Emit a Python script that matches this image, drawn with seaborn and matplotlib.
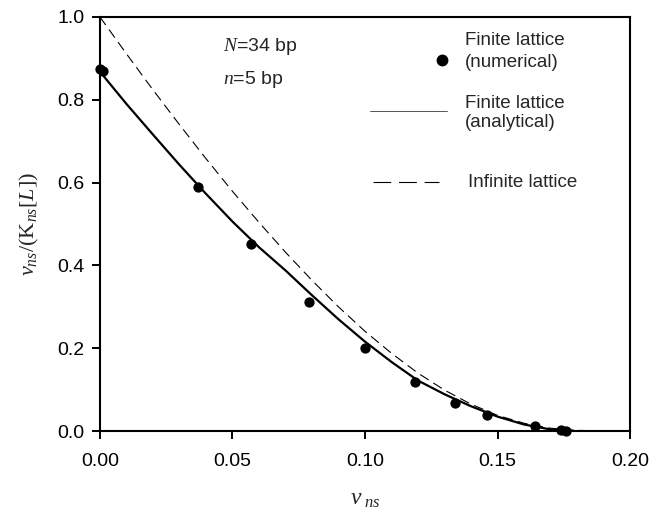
import numpy as np
import pandas as pd
import matplotlib
matplotlib.use("Agg")
import matplotlib.pyplot as plt
import seaborn as sns

# binding density v_ns and Scatchard ordinate v_ns/(K_ns[L])
num_v = [0.000, 0.001, 0.037, 0.057, 0.079, 0.100, 0.119, 0.134, 0.146, 0.164, 0.174, 0.176]
num_y = [0.875, 0.870, 0.589, 0.451, 0.312, 0.200, 0.119, 0.068, 0.039, 0.013, 0.002, 0.001]

fin_v = [0.00, 0.01, 0.02, 0.03, 0.04, 0.05, 0.06, 0.07, 0.08, 0.09,
         0.10, 0.11, 0.12, 0.13, 0.14, 0.15, 0.16, 0.17, 0.176]
fin_y = [0.868, 0.790, 0.716, 0.643, 0.573, 0.506, 0.444, 0.388, 0.328, 0.270,
         0.216, 0.167, 0.122, 0.089, 0.060, 0.035, 0.016, 0.004, 0.000]

inf_v = [0.00, 0.01, 0.02, 0.03, 0.04, 0.05, 0.06, 0.07, 0.08, 0.09, 0.10,
         0.11, 0.12, 0.13, 0.14, 0.15, 0.16, 0.17, 0.18, 0.19, 0.20]
inf_y = [1.000, 0.911, 0.824, 0.740, 0.658, 0.579, 0.504, 0.432, 0.364, 0.300, 0.241,
         0.188, 0.140, 0.099, 0.065, 0.038, 0.019, 0.007, 0.002, 0.000, 0.000]

x_ticks = [0.00, 0.05, 0.10, 0.15, 0.20]
y_ticks = [0.0, 0.2, 0.4, 0.6, 0.8, 1.0]

sns.set_style("ticks")
plt.rcParams['font.family'] = ['Liberation Sans', 'DejaVu Sans']
plt.rcParams['mathtext.fontset'] = 'custom'
plt.rcParams['mathtext.rm'] = 'Liberation Serif'
plt.rcParams['mathtext.it'] = 'Liberation Serif:italic'

fig = plt.figure(figsize=(6.66, 5.12), dpi=100)
ax = fig.add_axes([0.150, 0.158, 0.796, 0.809])

inf_df = pd.DataFrame({"v": inf_v, "y": inf_y})
fin_df = pd.DataFrame({"v": fin_v, "y": fin_y})
num_df = pd.DataFrame({"v": num_v, "y": num_y})

sns.lineplot(data=inf_df, x="v", y="y", ax=ax, color="black", lw=0.8,
             sort=False).lines[-1].set_dashes([9, 5])
sns.lineplot(data=fin_df, x="v", y="y", ax=ax, color="black", lw=1.6, sort=False)
sns.scatterplot(data=num_df, x="v", y="y", ax=ax, color="black", s=55,
                edgecolor="black", linewidth=0, zorder=5, clip_on=False)

ax.set_xlim(0, 0.20)
ax.set_ylim(0, 1.0)
ax.set_xticks(x_ticks)
ax.set_yticks(y_ticks)
ax.set_xticklabels([f"{t:.2f}" for t in x_ticks])
ax.set_yticklabels([f"{t:.1f}" for t in y_ticks])
ax.tick_params(axis="both", direction="out", length=6, width=1.4,
               labelsize=14, color="black", labelcolor="black")
ax.tick_params(axis="x", pad=10)
ax.tick_params(axis="y", pad=5)
for s in ax.spines.values():
    s.set_linewidth(1.5)
    s.set_color("black")

ax.set_xlabel(r"$v_{\ ns}$", fontsize=17, labelpad=13)
ax.set_ylabel(r"$v_{ns}/(\mathrm{K}_{ns}[L])$", fontsize=16, labelpad=12)

# annotations
ax.text(0.232, 0.928, r"$N$=34 bp", transform=ax.transAxes, fontsize=14, va="center")
ax.text(0.232, 0.848, r"$n$=5 bp", transform=ax.transAxes, fontsize=14, va="center")

# hand-placed legend
leg_fs = 13.5
ax.plot([0.645], [0.896], "o", color="black", ms=7.5, transform=ax.transAxes)
ax.text(0.689, 0.944, "Finite lattice", transform=ax.transAxes, fontsize=leg_fs, va="center")
ax.text(0.689, 0.891, "(numerical)", transform=ax.transAxes, fontsize=leg_fs, va="center")
ax.plot([0.510, 0.655], [0.773, 0.773], color="#555555", lw=0.7, transform=ax.transAxes)
ax.text(0.689, 0.792, "Finite lattice", transform=ax.transAxes, fontsize=leg_fs, va="center")
ax.text(0.689, 0.744, "(analytical)", transform=ax.transAxes, fontsize=leg_fs, va="center")
ax.plot([0.515, 0.640], [0.601, 0.601], color="black", lw=0.8, dashes=[16, 7],
        transform=ax.transAxes)
ax.text(0.694, 0.601, "Infinite lattice", transform=ax.transAxes, fontsize=leg_fs, va="center")

fig.savefig("out.png", dpi=100)
